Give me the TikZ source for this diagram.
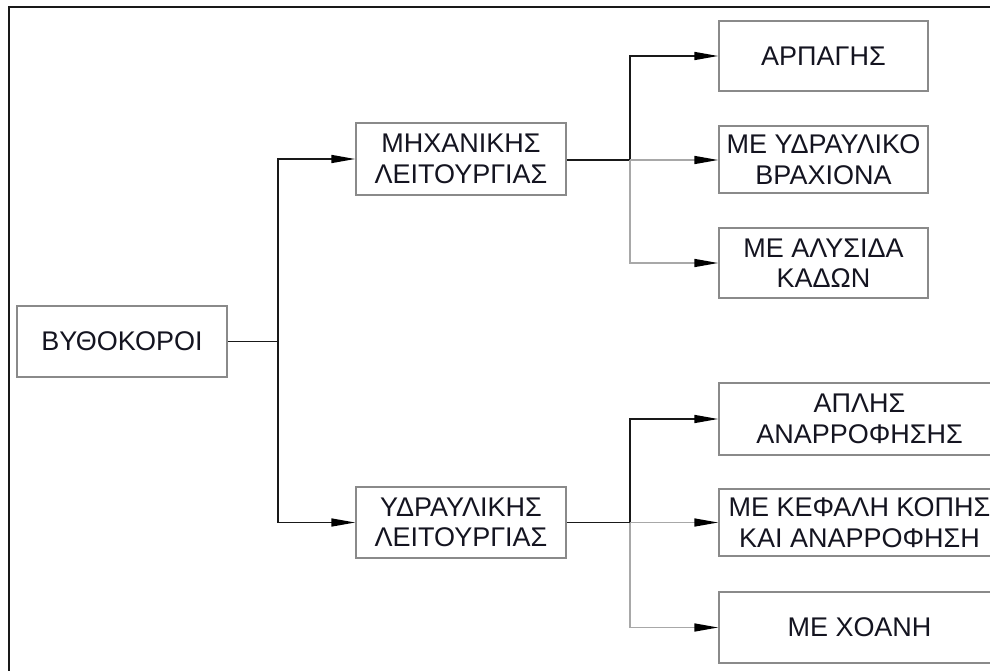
\documentclass[tikz,border=0pt]{standalone}
\usepackage{fontspec}
\setmainfont{Liberation Sans}
\usetikzlibrary{arrows.meta}
\definecolor{boxgrey}{HTML}{8A8A8A}
\definecolor{linegrey}{HTML}{A8A8A8}
\definecolor{txt}{HTML}{141420}
\tikzset{
  box/.style={draw=boxgrey, line width=1.5pt, minimum width=210pt, minimum height=71pt,
    align=center, inner sep=0pt, text=txt, font=\fontsize{27}{30.5}\selectfont},
  conn/.style={line width=1.6pt, draw=black!90},
  conng/.style={line width=1.6pt, draw=linegrey},
  tip/.style={-{Triangle[length=24pt,width=8pt,color=black]}}
}
\begin{document}
\begin{tikzpicture}[x=1pt,y=-1pt]
\useasboundingbox (0,0) rectangle (990,671);
\clip (0,0) rectangle (990,671);
% frame (left and top edges visible)
\draw[line width=2pt, black!90] (8.5,680) -- (8.5,7.5) -- (1000,7.5);

\node[box] (root) at (122,341.5) {ΒΥΘΟΚΟΡΟΙ};
\node[box, minimum height=72pt] (mech) at (461,159) {ΜΗΧΑΝΙΚΗΣ\\ΛΕΙΤΟΥΡΓΙΑΣ};
\node[box] (hyd) at (461,522.5) {ΥΔΡΑΥΛΙΚΗΣ\\ΛΕΙΤΟΥΡΓΙΑΣ};

\node[box, minimum width=209pt, minimum height=70pt] (a1) at (823.5,56) {ΑΡΠΑΓΗΣ};
\node[box, minimum width=209pt, minimum height=67pt] (a2) at (823.5,159.5) {ΜΕ ΥΔΡΑΥΛΙΚΟ\\ΒΡΑΧΙΟΝΑ};
\node[box, minimum width=209pt, minimum height=70pt] (a3) at (823.5,263) {ΜΕ ΑΛΥΣΙΔΑ\\ΚΑΔΩΝ};

\node[box, minimum width=281pt, minimum height=72pt] (b1) at (859.5,419) {ΑΠΛΗΣ\\ΑΝΑΡΡΟΦΗΣΗΣ};
\node[box, minimum width=281pt, minimum height=67pt] (b2) at (859.5,522.5) {ΜΕ ΚΕΦΑΛΗ ΚΟΠΗΣ\\ΚΑΙ ΑΝΑΡΡΟΦΗΣΗ};
\node[box, minimum width=281pt, minimum height=71pt] (b3) at (859.5,627.5) {ΜΕ ΧΟΑΝΗ};

\coordinate (j0) at (278,341.5);
\coordinate (j1) at (630,160);
\coordinate (j2) at (630,522.5);

% root branches
\draw[conn] (root.east) -- (j0);
\draw[conn, tip] (j0) |- (mech.west);
\draw[conn, tip] (j0) |- (hyd.west);

% mechanical branches
\draw[conn] (mech.east |- j1) -- (j1);
\draw[conn, tip] (j1) |- (a1.west);
\draw[conng, tip] (j1) -- (a2.west |- j1);
\draw[conng, tip] (j1) |- (a3.west);

% hydraulic branches
\draw[conn] (hyd.east) -- (j2);
\draw[conn, tip] (j2) |- (b1.west);
\draw[conng, tip] (j2) -- (b2.west);
\draw[conng, tip] (j2) |- (b3.west);
\end{tikzpicture}
\end{document}
